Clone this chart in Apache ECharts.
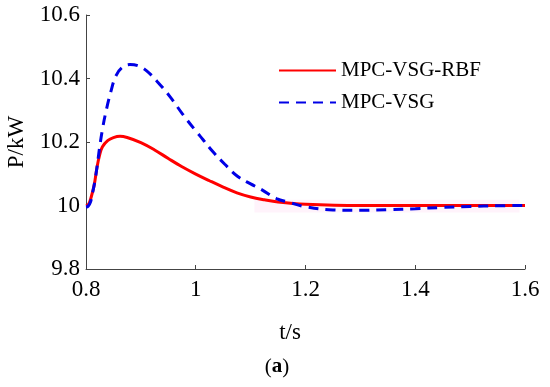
<!DOCTYPE html>
<html>
<head>
<meta charset="utf-8">
<script src="https://cdn.jsdelivr.net/npm/echarts@6/dist/echarts.min.js"></script>
<style>
html,body{margin:0;padding:0;background:#fff;}
#chart{width:550px;height:387px;}
</style>
</head>
<body>
<div id="chart"></div>
<script>
// ---- data ----
const seriesNames = ['MPC-VSG-RBF', 'MPC-VSG'];
const xTicks = [0.8, 1.0, 1.2, 1.4, 1.6];
const yTicks = [9.8, 10.0, 10.2, 10.4, 10.6];

const rbfTime = [0.8, 0.805, 0.81, 0.815, 0.82, 0.825, 0.83, 0.84, 0.85, 0.862, 0.875, 0.9, 0.925, 0.95, 0.975, 1.0, 1.025, 1.05, 1.075, 1.1, 1.125, 1.15, 1.2, 1.3, 1.4, 1.5, 1.6];
const rbfPower = [10.0, 10.005, 10.03, 10.065, 10.12, 10.16, 10.185, 10.205, 10.214, 10.218, 10.214, 10.198, 10.175, 10.148, 10.122, 10.099, 10.078, 10.058, 10.04, 10.027, 10.018, 10.011, 10.004, 10.0, 10.0, 10.0, 10.0];

const vsgTime = [0.8, 0.804, 0.808, 0.812, 0.816, 0.82, 0.825, 0.83, 0.835, 0.845, 0.855, 0.867, 0.88, 0.895, 0.91, 0.93, 0.953, 0.976, 1.0, 1.013, 1.031, 1.053, 1.076, 1.1, 1.12, 1.147, 1.17, 1.2, 1.25, 1.3, 1.35, 1.4, 1.45, 1.5, 1.55, 1.6];
const vsgPower = [9.995, 9.998, 10.01, 10.04, 10.075, 10.12, 10.185, 10.24, 10.285, 10.357, 10.41, 10.436, 10.444, 10.44, 10.425, 10.39, 10.343, 10.288, 10.235, 10.208, 10.17, 10.13, 10.092, 10.068, 10.05, 10.022, 10.01, 9.996, 9.986, 9.985, 9.987, 9.99, 9.994, 9.997, 9.999, 10.0];

const bandX = [1.107, 1.59];
const bandY = [9.978, 10.018];

const FONT = '"Liberation Serif", "DejaVu Serif", serif';
const zip = (a, b) => a.map((v, i) => [v, b[i]]);
const fmt = v => String(+(+v).toFixed(1));

const chart = echarts.init(document.getElementById('chart'), null, {renderer: 'canvas'});
chart.setOption({
  animation: false,
  backgroundColor: '#fff',
  grid: {left: 86, right: 25, top: 15, bottom: 118, containLabel: false, outerBoundsMode: 'none'},
  legend: {
    left: 273, top: 55, orient: 'vertical',
    itemWidth: 57, itemHeight: 14, itemGap: 11,
    itemStyle: {opacity: 0},
    textStyle: {fontFamily: FONT, fontSize: 21, color: '#000'},
    data: seriesNames
  },
  xAxis: {
    type: 'value', min: xTicks[0], max: xTicks[xTicks.length - 1], interval: 0.2,
    axisLine: {show: true, lineStyle: {color: '#444', width: 1}},
    axisTick: {show: true, inside: true, length: 4, lineStyle: {color: '#444'}},
    axisLabel: {fontFamily: FONT, fontSize: 23, color: '#000', margin: 9, formatter: fmt},
    splitLine: {show: false}
  },
  yAxis: {
    type: 'value', min: yTicks[0], max: yTicks[yTicks.length - 1], interval: 0.2,
    name: 'P/kW', nameLocation: 'middle', nameGap: 56,
    nameTextStyle: {fontFamily: FONT, fontSize: 23, color: '#000'},
    axisLine: {show: true, lineStyle: {color: '#444', width: 1}},
    axisTick: {show: true, inside: true, length: 4, lineStyle: {color: '#444'}},
    axisLabel: {fontFamily: FONT, fontSize: 23, color: '#000', margin: 6, formatter: fmt},
    splitLine: {show: false}
  },
  series: [
    {
      name: seriesNames[0], type: 'line', data: zip(rbfTime, rbfPower),
      smooth: 0.4, showSymbol: false, symbol: 'none', z: 3,
      lineStyle: {color: '#ff0000', width: 3},
      itemStyle: {color: '#ff0000'},
      markArea: {
        silent: true,
        itemStyle: {color: 'rgba(255,170,230,0.14)'},
        data: [[{coord: [bandX[0], bandY[0]]}, {coord: [bandX[1], bandY[1]]}]]
      }
    },
    {
      name: seriesNames[1], type: 'line', data: zip(vsgTime, vsgPower),
      smooth: 0.4, showSymbol: false, symbol: 'none', z: 4,
      lineStyle: {color: '#0000e6', width: 3, type: [10, 7]},
      itemStyle: {color: '#0000e6'}
    }
  ],
  graphic: [
    {type: 'text', x: 290, y: 333, silent: true,
      style: {text: 't/s', font: '23px ' + FONT, fill: '#000', align: 'center', verticalAlign: 'middle'}},
    {type: 'text', x: 277, y: 367, silent: true,
      style: {text: '({b|a})', font: '21px ' + FONT, fill: '#000', align: 'center', verticalAlign: 'middle',
        rich: {b: {font: 'bold 21px ' + FONT, fill: '#000'}}}}
  ]
});
</script>
</body>
</html>
